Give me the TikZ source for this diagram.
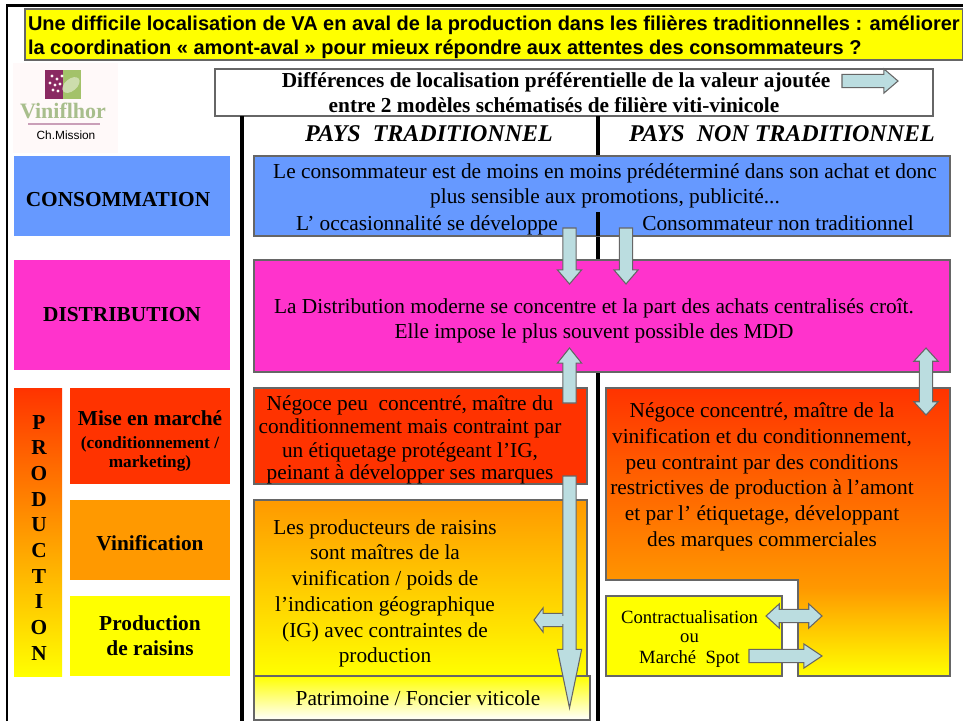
\documentclass[tikz,border=0pt]{standalone}
\usepackage{fontspec}
\setmainfont{Liberation Serif}
\newfontfamily\arialf{Liberation Sans}
\usetikzlibrary{shapes.arrows}
\definecolor{cblue}{HTML}{6699FF}
\definecolor{cmag}{HTML}{FF33CC}
\definecolor{cred}{HTML}{FF3300}
\definecolor{corange}{HTML}{FF9900}
\definecolor{cyel}{HTML}{FFFF00}
\definecolor{carrow}{HTML}{BBDDE0}
\definecolor{cedge}{HTML}{666666}
\definecolor{clogop}{HTML}{8A2A62}
\definecolor{clogog}{HTML}{A3C26A}
\definecolor{clogot}{HTML}{A8BE8C}
\newcommand{\fs}[1]{\fontsize{#1}{#1}\selectfont}
\newcommand{\bodyfs}{\fs{16}}
\tikzset{
 x=0.75pt,y=-0.75pt,
 every node/.style={inner sep=0pt,outer sep=0pt},
 panel/.style={draw=cedge,line width=0.9pt},
 side/.style={draw=none},
 bar/.style={line width=3pt,black},
 body/.style={font=\bodyfs,anchor=base,text=black},
 lab/.style={font=\bfseries\fs{16},anchor=base,text=black},
 small/.style={font=\bfseries\fs{12.9},anchor=base},
 contr/.style={font=\fs{14},anchor=base},
 heading/.style={font=\arialf\bfseries\fs{15},anchor=base west},
 sarrow/.style n args={3}{single arrow,draw=cedge,fill=carrow,line width=0.8pt,anchor=tail,inner sep=4.6pt,
   minimum width=18pt,single arrow head extend=4.1pt,
   single arrow tip angle={2*atan(12/#2)},minimum height=#1*0.75pt,rotate=#3},
 darrow/.style n args={2}{double arrow,draw=cedge,fill=carrow,line width=0.8pt,inner sep=4.6pt,
   minimum width=18pt,double arrow head extend=4.1pt,
   double arrow tip angle=85,minimum height=#1*0.75pt,rotate=#2},
}
\begin{document}
\begin{tikzpicture}
\useasboundingbox (0,0) rectangle (963,721);
\fill[white] (0,0) rectangle (963,721);
% frame
\draw[line width=2.2pt,black] (7,721) -- (7,5.5) -- (963,5.5);
% logo
\fill[pink!10] (13,63) rectangle (118,153);
\fill[clogop] (45,70) rectangle (63,99);
\fill[clogog] (63,70) rectangle (81,99);
\fill[clogog!55!white,rotate around={40:(71,85)}] (71,85) ellipse (10 and 6);
\foreach \gx/\gy in {52/76,57/79,50/83,55/85,60/84,53/90,58/91,62/76}{\fill[white!85!pink] (\gx,\gy) circle (1.7);}
\node[font=\bfseries\fs{16.5},text=clogot,anchor=base] (vlogo) at (63,118) {Viniflhor};
\fill[clogop!45!white] (28,123) rectangle (100,124.5);
\node[font=\arialf\fs{8.9},anchor=base] (chm) at (66,139) {Ch.Mission};
% title
\node[panel,fill=cyel,minimum width=938*0.75pt,minimum height=51*0.75pt,anchor=north west] (title) at (25,9) {};
\node[heading] (t1) at (28,30) {Une difficile localisation de VA en aval de la production dans les filières traditionnelles : améliorer};
\node[heading] (t2) at (28,54) {la coordination « amont-aval » pour mieux répondre aux attentes des consommateurs ?};
% header
\node[panel,fill=white,minimum width=718*0.75pt,minimum height=47*0.75pt,anchor=north west] (hdr) at (215,69) {};
\node[lab] (h1) at (556,87) {Différences de localisation préférentielle de la valeur ajoutée};
\node[lab] (h2) at (554,112) {entre 2 modèles schématisés de filière viti-vinicole};
\node[sarrow={56}{14}{0}] (ah) at (842,81) {};
% bars
\draw[bar] (242,116) -- (242,721);
\draw[bar] (598,116) -- (598,156);
\draw[bar] (598,212) -- (598,260);
\draw[bar] (598,372) -- (598,721);
\node[font=\bfseries\itshape\fs{18},anchor=base] (pt) at (429,141) {PAYS\ \ TRADITIONNEL};
\node[font=\bfseries\itshape\fs{18},anchor=base] (pnt) at (782,141) {PAYS\ \ NON TRADITIONNEL};
% left
\node[side,fill=cblue,minimum width=216*0.75pt,minimum height=80*0.75pt,anchor=north west] (cons) at (14,156) {};
\node[lab] (lcons) at (118,206) {CONSOMMATION};
\node[side,fill=cmag,minimum width=216*0.75pt,minimum height=110*0.75pt,anchor=north west] (dist) at (14,260) {};
\node[lab] (ldist) at (122,321) {DISTRIBUTION};
\shade[top color=cred,bottom color=cyel] (14,388) rectangle (62,676);
\foreach \ll/\yy in {P/429,R/454.7,O/480.3,D/506,U/531.7,C/557.3,T/583,I/608.7,O/634.3,N/660}{
 \node[font=\bfseries\fs{16},anchor=base] at (39,\yy) {\ll};}
\node[side,fill=cred,minimum width=160*0.75pt,minimum height=96*0.75pt,anchor=north west] (mm) at (70,388) {};
\node[lab] (lmm) at (150,425) {Mise en marché};
\node[small] (lmm2) at (150,448) {(conditionnement /};
\node[small] (lmm3) at (150,467) {marketing)};
\node[side,fill=corange,minimum width=160*0.75pt,minimum height=80*0.75pt,anchor=north west] (vin) at (70,500) {};
\node[lab] (lvin) at (150,550) {Vinification};
\node[side,fill=cyel,minimum width=160*0.75pt,minimum height=80*0.75pt,anchor=north west] (rai) at (70,596) {};
\node[lab] (lrai) at (150,630) {Production};
\node[lab] (lrai2) at (150,655) {de raisins};
% panels
\node[panel,fill=cblue,minimum width=696*0.75pt,minimum height=80*0.75pt,anchor=north west] (pblue) at (254,156) {};
\draw[bar] (598,212) -- (598,236);
\node[body] (b1) at (605,178) {Le consommateur est de moins en moins prédéterminé dans son achat et donc};
\node[body] (b2) at (605,203) {plus sensible aux promotions, publicité...};
\node[body] (b3) at (427,230) {L’ occasionnalité se développe};
\node[body] (b4) at (778,230) {Consommateur non traditionnel};
\node[panel,fill=cmag,minimum width=696*0.75pt,minimum height=112*0.75pt,anchor=north west] (pmag) at (254,260) {};
\node[body] (m1) at (594,313) {La Distribution moderne se concentre et la part des achats centralisés croît.};
\node[body] (m2) at (594,338) {Elle impose le plus souvent possible des MDD};
\node[panel,fill=cred,minimum width=333*0.75pt,minimum height=96*0.75pt,anchor=north west] (pred) at (254,388) {};
\node[body] (r1) at (410,410) {Négoce peu\ \ concentré, maître du};
\node[body] (r2) at (410,433) {conditionnement mais contraint par};
\node[body] (r3) at (410,457) {un étiquetage protégeant l’IG,};
\node[body] (r4) at (410,479) {peinant à développer ses marques};
\draw[panel,top color=corange,bottom color=cyel] (254,500) rectangle (587,676);
\node[body] (o1) at (385,534) {Les producteurs de raisins};
\node[body] (o2) at (385,559) {sont maîtres de la};
\node[body] (o3) at (385,585) {vinification / poids de};
\node[body] (o4) at (385,611) {l’indication géographique};
\node[body] (o5) at (385,637) {(IG) avec contraintes de};
\node[body] (o6) at (385,662) {production};
\draw[panel,top color=cyel,bottom color=white] (254,676) rectangle (590,720);
\node[body] (pat) at (418,705) {Patrimoine / Foncier viticole};
% right L panel
\shade[top color=cred,bottom color=corange] (606,388) rectangle (950,589);
\fill[white] (606,581) rectangle (797.5,590);
\shade[top color=corange,bottom color=cyel] (798,588.5) rectangle (950,676);
\draw[panel] (798,589) -- (798,580) -- (606,580) -- (606,388) -- (950,388) -- (950,676) -- (798,676) -- cycle;
\node[body] (n1) at (762,417) {Négoce concentré, maître de la};
\node[body] (n2) at (762,443) {vinification et du conditionnement,};
\node[body] (n3) at (762,469) {peu contraint par des conditions};
\node[body] (n4) at (762,494) {restrictives de production à l’amont};
\node[body] (n5) at (762,520) {et par l’ étiquetage, développant};
\node[body] (n6) at (762,546) {des marques commerciales};
\node[panel,fill=cyel,minimum width=176*0.75pt,minimum height=80*0.75pt,anchor=north west] (pcon) at (606,596) {};
\node[contr] (c1) at (689.5,623) {Contractualisation};
\node[contr] (c2) at (689.5,642) {ou};
\node[contr] (c3) at (689.5,663) {Marché\ \ Spot};
% block arrows
\node[sarrow={56}{14}{-90}] (a1) at (569.5,228) {};
\node[sarrow={56}{14}{-90}] (a2) at (626,228) {};
\node[sarrow={55}{15}{90}] (a3) at (569.5,403) {};
\node[darrow={67}{90}] (a4) at (926,381.5) {};
\node[sarrow={31}{9}{180}] (a5) at (565,620) {};
\node[sarrow={232}{58}{-90}] (a6) at (569.5,476) {};
\fill[carrow] (562,616) rectangle (566,624);
\node[darrow={56}{0}] (a7) at (794,616) {};
\node[sarrow={73}{18}{0}] (a8) at (749,656) {};
\end{tikzpicture}
\end{document}
